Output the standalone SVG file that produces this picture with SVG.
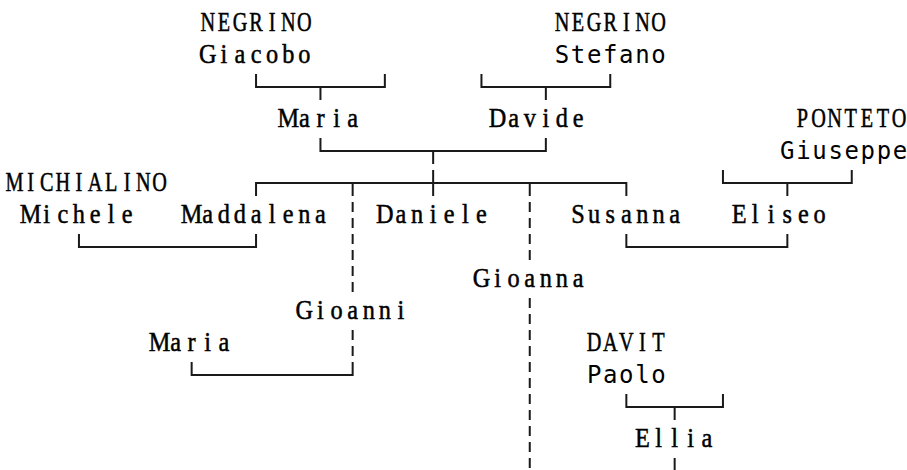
<svg xmlns="http://www.w3.org/2000/svg" width="907" height="470" viewBox="0 0 907 470">
<style>
.n{font-family:"Liberation Serif","Times New Roman",serif;font-size:27px;fill:#000;text-anchor:middle;stroke:#000;stroke-width:0.5}
.m{font-family:"DejaVu Sans Mono","Liberation Mono",monospace;font-size:24px;fill:#000;text-anchor:middle}
.c{fill:none;stroke:#1a1a1a;stroke-width:2}
.d{fill:none;stroke:#1a1a1a;stroke-width:2;stroke-dasharray:10 6}
</style>
<rect width="907" height="470" fill="#fff"/>
<g id="connectors">
<path class="c" d="M256.05 74V87H384.85V74M320.45 87V100"/>
<path class="c" d="M481.45 74V87H610.25V74M545.85 87V100"/>
<path class="c" d="M320.45 138V151H545.85V138M433.15 151V164"/>
<path class="c" d="M256.05 196V183H626.35V196M352.65 183V196M433.15 170V196M529.75 183V196"/>
<path class="c" d="M722.95 170V183H851.75V170M787.35 183V196"/>
<path class="c" d="M78.95 234V247H256.05V234"/>
<path class="c" d="M626.35 234V247H787.35V234"/>
<path class="c" d="M191.65 362V375H352.65V362"/>
<path class="c" d="M626.35 394V407H722.95V394M674.65 407V420"/>
<path class="c" d="M674.65 458V472"/>
<path class="d" d="M352.65 202V292M352.65 330V356"/>
<path class="d" d="M529.75 202V260M529.75 298V474"/>
</g>
<g id="negrino-giacobo">
<text class="n" transform="scale(0.75 1)" x="277 298.47 319.93 341.4 362.87 384.33 405.8" y="31">NEGRINO</text>
<text class="n" transform="scale(0.9 1)" x="230.83 248.72 266.61 284.5 302.39 320.28 338.17" y="63">Giacobo</text>
</g>
<g id="negrino-stefano">
<text class="n" transform="scale(0.75 1)" x="749.27 770.73 792.2 813.67 835.13 856.6 878.07" y="31">NEGRINO</text>
<text class="m" x="561.95 578.05 594.15 610.25 626.35 642.45 658.55" y="63">Stefano</text>
</g>
<g id="maria">
<text class="n" transform="scale(0.9 1)" x="320.28 338.17 356.06 373.94 391.83" y="127">Maria</text>
</g>
<g id="davide">
<text class="n" transform="scale(0.9 1)" x="552.83 570.72 588.61 606.5 624.39 642.28" y="127">Davide</text>
</g>
<g id="ponteto-giuseppe">
<text class="n" transform="scale(0.75 1)" x="1069.93 1091.4 1112.87 1134.33 1155.8 1177.27 1198.73" y="127">PONTETO</text>
<text class="m" x="787.35 803.45 819.55 835.65 851.75 867.85 883.95 900.05" y="159">Giuseppe</text>
</g>
<g id="michialino-michele">
<text class="n" transform="scale(0.75 1)" x="19.4 40.87 62.33 83.8 105.27 126.73 148.2 169.67 191.13 212.6" y="191">MICHIALINO</text>
<text class="n" transform="scale(0.9 1)" x="34.06 51.94 69.83 87.72 105.61 123.5 141.39" y="223">Michele</text>
</g>
<g id="maddalena">
<text class="n" transform="scale(0.9 1)" x="212.94 230.83 248.72 266.61 284.5 302.39 320.28 338.17 356.06" y="223">Maddalena</text>
</g>
<g id="daniele">
<text class="n" transform="scale(0.9 1)" x="427.61 445.5 463.39 481.28 499.17 517.06 534.94" y="223">Daniele</text>
</g>
<g id="susanna">
<text class="n" transform="scale(0.9 1)" x="642.28 660.17 678.06 695.94 713.83 731.72 749.61" y="223">Susanna</text>
</g>
<g id="eliseo">
<text class="n" transform="scale(0.9 1)" x="821.17 839.06 856.94 874.83 892.72 910.61" y="223">Eliseo</text>
</g>
<g id="gioanna">
<text class="n" transform="scale(0.9 1)" x="534.94 552.83 570.72 588.61 606.5 624.39 642.28" y="287">Gioanna</text>
</g>
<g id="gioanni">
<text class="n" transform="scale(0.9 1)" x="338.17 356.06 373.94 391.83 409.72 427.61 445.5" y="319">Gioanni</text>
</g>
<g id="maria-2">
<text class="n" transform="scale(0.9 1)" x="177.17 195.06 212.94 230.83 248.72" y="351">Maria</text>
</g>
<g id="davit-paolo">
<text class="n" transform="scale(0.75 1)" x="792.2 813.67 835.13 856.6 878.07" y="351">DAVIT</text>
<text class="m" x="594.15 610.25 626.35 642.45 658.55" y="383">Paolo</text>
</g>
<g id="ellia">
<text class="n" transform="scale(0.9 1)" x="713.83 731.72 749.61 767.5 785.39" y="447">Ellia</text>
</g>
</svg>
